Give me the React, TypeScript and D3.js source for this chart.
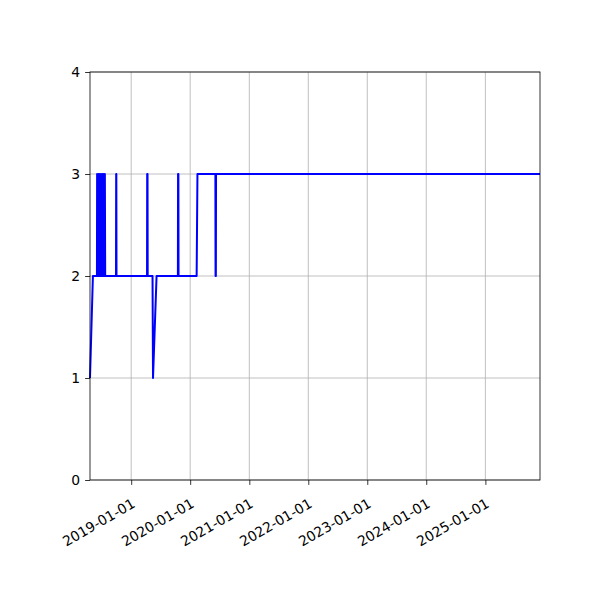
import { useEffect, useRef } from 'react';
import * as d3 from 'd3';

// sample dates and the level at each one
const dates = [
  '2018-04-21', '2018-05-09', '2018-06-03',
  '2018-06-04', '2018-06-08', '2018-06-12', '2018-06-16', '2018-06-20', '2018-06-24',
  '2018-06-28', '2018-07-02', '2018-07-06', '2018-07-10', '2018-07-14', '2018-07-18',
  '2018-07-22', '2018-07-24',
  '2018-09-29', '2018-09-30', '2018-10-01', '2018-10-02',
  '2019-04-09', '2019-04-10', '2019-04-12', '2019-04-13',
  '2019-05-13', '2019-05-16', '2019-06-07',
  '2019-10-17', '2019-10-18', '2019-10-20', '2019-10-21',
  '2020-02-10', '2020-02-15',
  '2020-06-05', '2020-06-06', '2020-06-08', '2020-06-09',
  '2025-12-05',
];
const values = [
  1, 2, 2,
  3, 2, 3, 2, 3, 2,
  3, 2, 3, 2, 3, 2,
  3, 2,
  2, 3, 3, 2,
  2, 3, 3, 2,
  2, 1, 2,
  2, 3, 3, 2,
  2, 3,
  3, 2, 2, 3,
  3,
];
const yTicks = [0, 1, 2, 3, 4];
const xTickDates = ['2019-01-01', '2020-01-01', '2021-01-01', '2022-01-01', '2023-01-01', '2024-01-01', '2025-01-01'];

export default function App() {
  const ref = useRef<SVGSVGElement | null>(null);
  useEffect(() => {
    const svg = d3.select(ref.current!);
    svg.selectAll('*').remove();
    const W = 600, H = 600;
    const margin = { top: 72, right: 60, bottom: 120, left: 90 };
    const iw = W - margin.left - margin.right;
    const ih = H - margin.top - margin.bottom;
    const parse = d3.utcParse('%Y-%m-%d');
    const data = dates.map((d, i) => ({ t: parse(d)!, v: values[i] }));

    const x = d3.scaleUtc().domain(d3.extent(data, (d) => d.t) as [Date, Date]).range([0, iw]);
    const y = d3.scaleLinear().domain([0, 4]).range([ih, 0]);
    const g = svg.append('g').attr('transform', `translate(${margin.left},${margin.top})`);
    const font = 'DejaVu Sans, sans-serif';

    const xt = xTickDates.map((d) => parse(d)!);
    // grid
    g.selectAll('.gx').data(xt).enter().append('line')
      .attr('x1', (d) => x(d)).attr('x2', (d) => x(d)).attr('y1', 0).attr('y2', ih)
      .attr('stroke', '#b0b0b0').attr('stroke-width', 0.8);
    g.selectAll('.gy').data(yTicks).enter().append('line')
      .attr('x1', 0).attr('x2', iw).attr('y1', (d) => y(d)).attr('y2', (d) => y(d))
      .attr('stroke', '#b0b0b0').attr('stroke-width', 0.8);

    const line = d3.line<{ t: Date; v: number }>().x((d) => x(d.t)).y((d) => y(d.v));
    g.append('path').datum(data).attr('d', line).attr('fill', 'none')
      .attr('stroke', 'blue').attr('stroke-width', 2).attr('stroke-linejoin', 'round');

    // frame
    g.append('rect').attr('width', iw).attr('height', ih).attr('fill', 'none')
      .attr('stroke', 'black').attr('stroke-width', 0.8);

    const ax = g.append('g').attr('transform', `translate(0,${ih})`)
      .call(d3.axisBottom(x).tickValues(xt).tickSize(4.9).tickFormat(() => ''));
    ax.select('.domain').remove();
    ax.selectAll('.tick line').attr('stroke', 'black').attr('stroke-width', 0.8);
    g.selectAll('.xl').data(xt).enter().append('text')
      .attr('transform', (d) => `translate(${x(d)},${ih + 18}) rotate(-30)`)
      .attr('text-anchor', 'end').attr('dy', '0.7em')
      .attr('font-family', font).attr('font-size', 13.9).attr('fill', 'black')
      .text((d) => d3.utcFormat('%Y-%m-%d')(d));

    const ay = g.append('g')
      .call(d3.axisLeft(y).tickValues(yTicks).tickSize(4.9).tickPadding(4.9).tickFormat(d3.format('d')));
    ay.select('.domain').remove();
    ay.selectAll('.tick line').attr('stroke', 'black').attr('stroke-width', 0.8);
    ay.selectAll('text').attr('font-family', font).attr('font-size', 13.9).attr('fill', 'black');
  }, []);
  return <svg ref={ref} width={600} height={600} style={{ display: 'block', margin: -8 }} />;
}
